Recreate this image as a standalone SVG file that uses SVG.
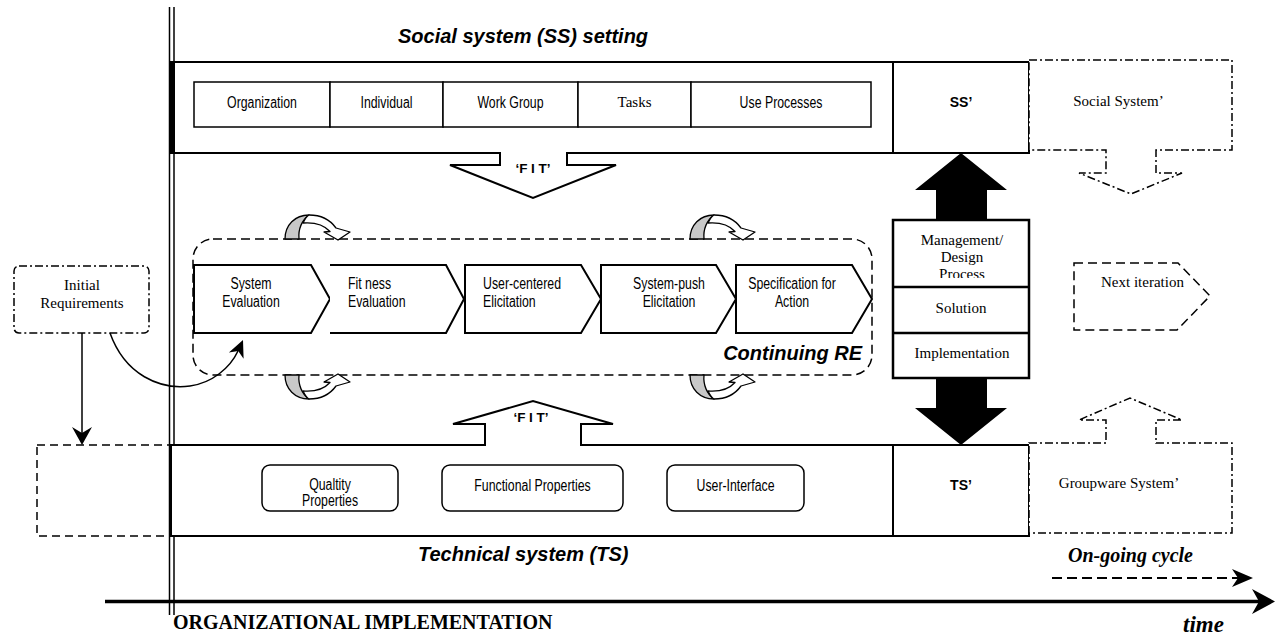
<svg xmlns="http://www.w3.org/2000/svg" width="1275" height="636" viewBox="0 0 1275 636">
  <style>
    .sn { font-family: "Liberation Sans", Arial, sans-serif; font-size: 16px; fill: #000; }
    .tm { font-family: "Liberation Serif", "Times New Roman", serif; font-size: 15px; fill: #000; }
    .ttl { font-family: "Liberation Sans", Arial, sans-serif; font-weight: bold; font-style: italic; font-size: 20px; fill: #000; }
    .bs { font-family: "Liberation Sans", Arial, sans-serif; font-weight: bold; font-size: 14px; fill: #000; }
    .fit { font-family: "Liberation Sans", Arial, sans-serif; font-weight: bold; font-size: 13.5px; fill: #000; }
    .tbi { font-family: "Liberation Serif", "Times New Roman", serif; font-weight: bold; font-style: italic; fill: #000; }
    .mid { text-anchor: middle; }
    .box { fill: #fff; stroke: #000; stroke-width: 2; }
    .thin { fill: #fff; stroke: #000; stroke-width: 1.5; }
    .heavy { fill: #fff; stroke: #000; stroke-width: 2.5; }
    .dashdot { fill: #fff; stroke: #000; stroke-width: 1.5; stroke-dasharray: 8 3 2 3; }
    .dashed { fill: none; stroke: #000; stroke-width: 1.5; stroke-dasharray: 9 5; }
    .loopgray { fill: #c8c8c8; stroke: #000; stroke-width: 1.3; stroke-linejoin: round; }
    .loopwhite { fill: #fff; stroke: #000; stroke-width: 1.3; stroke-linejoin: round; }
  </style>
  <defs>
    <clipPath id="mgmtClip">
      <rect x="893" y="220" width="136" height="58"/>
    </clipPath>
    <!-- curved iteration arrow, drawn above a baseline at y=239 -->
    <g id="loop">
      <path class="loopgray" d="M285,239 C285,225 295,215 309,215 C302,220 298,229 299,239 Z"/>
      <path class="loopwhite" d="M309,215 C322,215 331,221 336,228 L350,232 L338,240 L324,232 L330,231.5 C325,226 316,222 303,223 C305,219 307,216 309,215 Z"/>
    </g>
  </defs>

  <rect width="1275" height="636" fill="#fff"/>

  <!-- organizational implementation boundary -->
  <g id="boundary">
    <line x1="169.5" y1="7" x2="169.5" y2="615" stroke="#000" stroke-width="1.5"/>
    <line x1="174" y1="7" x2="174" y2="615" stroke="#000" stroke-width="1.5"/>
  </g>

  <!-- social system setting -->
  <g id="social-system">
    <path class="box" d="M171,62 H893 V153 H567 V165 H616 L533,198 L450,165 H500 V153 H171 Z"/>
    <rect x="170" y="62" width="5" height="91" fill="#000"/>
    <text class="ttl" x="398" y="43">Social system (SS) setting</text>
    <text class="fit mid" x="533" y="173">‘F I T’</text>
  </g>
  <g id="ss-organization">
    <rect class="thin" x="194" y="82" width="136" height="45"/>
    <text class="sn mid" x="340.26" y="108.5" transform="scale(0.77,1)">Organization</text>
  </g>
  <g id="ss-individual">
    <rect class="thin" x="330" y="82" width="113" height="45"/>
    <text class="sn mid" x="501.95" y="108.5" transform="scale(0.77,1)">Individual</text>
  </g>
  <g id="ss-workgroup">
    <rect class="thin" x="443" y="82" width="135" height="45"/>
    <text class="sn mid" x="662.99" y="108.5" transform="scale(0.77,1)">Work Group</text>
  </g>
  <g id="ss-tasks">
    <rect class="thin" x="578" y="82" width="113" height="45"/>
    <text class="tm mid" x="634.5" y="107">Tasks</text>
  </g>
  <g id="ss-useprocesses">
    <rect class="thin" x="691" y="82" width="180" height="45"/>
    <text class="sn mid" x="1014.29" y="108.5" transform="scale(0.77,1)">Use Processes</text>
  </g>
  <g id="ss-prime">
    <rect class="box" x="893" y="62" width="136" height="91"/>
    <text class="bs mid" x="961" y="107">SS’</text>
  </g>
  <g id="social-system-next">
    <path class="dashdot" d="M1029,60 H1232 V150 H1156 V173 H1182 L1131,194 L1079,173 H1106 V150 H1029 Z"/>
    <text class="tm mid" x="1118.5" y="106">Social System’</text>
  </g>

  <!-- initial requirements and its target -->
  <g id="initial-requirements">
    <rect class="dashdot" x="14" y="266" width="135" height="67" rx="5" stroke-dasharray="6 3 1.5 3"/>
    <text class="tm mid" x="82" y="290">Initial</text>
    <text class="tm mid" x="82" y="308">Requirements</text>
  </g>
  <g id="initial-target">
    <rect x="37" y="445" width="135" height="91" fill="none" stroke="#000" stroke-width="1.5" stroke-dasharray="8 5"/>
  </g>

  <!-- continuing requirements engineering -->
  <g id="continuing-re">
    <rect class="dashed" x="193" y="239" width="679" height="136" rx="20"/>
    <text class="ttl" x="862" y="360" text-anchor="end">Continuing RE</text>
  </g>
  <g id="step-system-evaluation">
    <path class="box" d="M194,265 H311 L330,299 L311,333 H194 Z"/>
    <text class="sn mid" x="325.97" y="289" transform="scale(0.77,1)">System</text>
    <text class="sn mid" x="325.97" y="307" transform="scale(0.77,1)">Evaluation</text>
  </g>
  <g id="step-fitness-evaluation">
    <path class="box" d="M330,265 H446 L464,299 L446,333 H330"/>
    <text class="sn" x="451.95" y="289" transform="scale(0.77,1)">Fit ness</text>
    <text class="sn" x="451.95" y="307" transform="scale(0.77,1)">Evaluation</text>
  </g>
  <g id="step-user-centered">
    <path class="box" d="M465,265 H581 L601,299 L581,333 H465 Z"/>
    <text class="sn" x="627.27" y="289" transform="scale(0.77,1)">User-centered</text>
    <text class="sn" x="627.27" y="307" transform="scale(0.77,1)">Elicitation</text>
  </g>
  <g id="step-system-push">
    <path class="box" d="M601,265 H716 L736,299 L716,333 H601 Z"/>
    <text class="sn mid" x="868.83" y="289" transform="scale(0.77,1)">System-push</text>
    <text class="sn mid" x="868.83" y="307" transform="scale(0.77,1)">Elicitation</text>
  </g>
  <g id="step-specification">
    <path class="box" d="M736,265 H852 L872,299 L852,333 H736 Z"/>
    <text class="sn mid" x="1028.57" y="289" transform="scale(0.77,1)">Specification for</text>
    <text class="sn mid" x="1028.57" y="307" transform="scale(0.77,1)">Action</text>
  </g>

  <!-- management stack -->
  <g id="management">
    <rect class="heavy" x="893" y="220" width="136" height="158"/>
    <line x1="893" y1="287" x2="1029" y2="287" stroke="#000" stroke-width="2.5"/>
    <line x1="893" y1="333" x2="1029" y2="333" stroke="#000" stroke-width="2.5"/>
    <g clip-path="url(#mgmtClip)">
      <text class="tm mid" x="962" y="245">Management/</text>
      <text class="tm mid" x="962" y="262">Design</text>
      <text class="tm mid" x="962" y="279">Process</text>
    </g>
    <text class="tm mid" x="961" y="313">Solution</text>
    <text class="tm mid" x="962" y="358">Implementation</text>
  </g>

  <g id="next-iteration">
    <path class="dashed" d="M1074,263 H1178 L1210,296 L1177,330 H1074 Z"/>
    <text class="tm" x="1101" y="287">Next iteration</text>
  </g>

  <!-- technical system -->
  <g id="technical-system">
    <path class="box" d="M171,445 H485 V424 H453 L533,401 L613,424 H581 V445 H893 V536 H171 Z"/>
    <text class="fit mid" x="531" y="422">‘F I T’</text>
    <text class="ttl" x="418" y="561">Technical system (TS)</text>
  </g>
  <g id="ts-quality">
    <rect class="thin" x="262" y="465" width="136" height="46" rx="8"/>
    <text class="sn mid" x="428.57" y="490" transform="scale(0.77,1)">Qualtity</text>
    <text class="sn mid" x="428.57" y="506.5" transform="scale(0.77,1)">Properties</text>
  </g>
  <g id="ts-functional">
    <rect class="thin" x="442" y="465" width="181" height="46" rx="8"/>
    <text class="sn mid" x="691.56" y="491" transform="scale(0.77,1)">Functional Properties</text>
  </g>
  <g id="ts-ui">
    <rect class="thin" x="667" y="465" width="137" height="46" rx="8"/>
    <text class="sn mid" x="955.19" y="491" transform="scale(0.77,1)">User-Interface</text>
  </g>
  <g id="ts-prime">
    <rect class="box" x="893" y="445" width="136" height="91"/>
    <text class="bs mid" x="961" y="490">TS’</text>
  </g>
  <g id="groupware-next">
    <path class="dashdot" d="M1029,443 H1106 V420 H1079 L1130,398 L1182,420 H1156 V443 H1232 V533 H1029 Z"/>
    <text class="tm mid" x="1119" y="488">Groupware System’</text>
  </g>

  <!-- connectors -->
  <g id="connectors">
    <!-- iteration loops -->
    <use href="#loop"/>
    <use href="#loop" transform="translate(405,0)"/>
    <use href="#loop" transform="matrix(1,0,0,-1,0,614)"/>
    <use href="#loop" transform="matrix(1,0,0,-1,405,614)"/>

    <!-- implementation arrows -->
    <path d="M936,220 V190 H915 L961,153 L1007,190 H987 V220 Z" fill="#000"/>
    <path d="M936,378 V408 H915 L961,445 L1007,408 H987 V378 Z" fill="#000"/>

    <!-- initial requirements flows -->
    <line x1="82" y1="333" x2="82" y2="433" stroke="#000" stroke-width="1.5"/>
    <path d="M82,445 L72,427 L82,433 L92,427 Z" fill="#000"/>
    <path d="M110,333 C125,375 160,390 190,386 C212,383 230,368 238,351" fill="none" stroke="#000" stroke-width="1.5"/>
    <path d="M243,340 L228.9,352.4 L238.2,351 L243.6,358.8 Z" fill="#000"/>

    <!-- ongoing cycle -->
    <line x1="1052" y1="578" x2="1238" y2="578" stroke="#000" stroke-width="2" stroke-dasharray="10 5"/>
    <path d="M1253,578 L1232,569 L1238,578 L1232,587 Z" fill="#000"/>

    <!-- time axis -->
    <line x1="105" y1="601.5" x2="1260" y2="601.5" stroke="#000" stroke-width="3.5"/>
    <path d="M1275,601.5 L1252,589 L1259,601.5 L1252,614 Z" fill="#000"/>
  </g>

  <text class="tbi" x="1068" y="562" font-size="20">On-going cycle</text>
  <text class="tbi" x="1183" y="632" font-size="23">time</text>
  <text x="173" y="629" font-family="Liberation Serif, 'Times New Roman', serif" font-weight="bold" font-size="20">ORGANIZATIONAL IMPLEMENTATION</text>
</svg>
